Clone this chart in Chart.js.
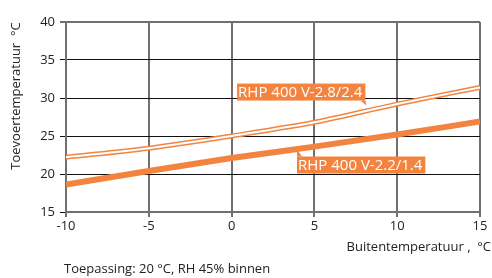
<!DOCTYPE html>
<html>
<head>
<meta charset="utf-8">
<script src="https://cdn.jsdelivr.net/npm/chart.js@4"></script>
<style>
  html, body { margin: 0; padding: 0; background: #fff; }
  #wrap { width: 492px; height: 278px; }
</style>
</head>
<body>
<div id="wrap"><canvas id="chart" width="492" height="278"></canvas></div>
<script>
// buitentemperatuur (x) en toevoertemperatuur (y)
const buitenTemp = [-10, -5, 0, 5, 10, 15];
const rhp28 = [22.2, 23.4, 25.0, 26.8, 29.2, 31.4];
const rhp22 = [18.6, 20.4, 22.1, 23.6, 25.2, 26.9];
const xTicks = [-10, -5, 0, 5, 10, 15];
const yTicks = [15, 20, 25, 30, 35, 40];

const labelNames = ["RHP 400 V-2.8/2.4", "RHP 400 V-2.2/1.4"];
const yTitle = "Toevoertemperatuur  °C";
const xTitle = "Buitentemperatuur ,  °C";
const footnote = "Toepassing: 20 °C, RH 45% binnen";

const oranje = "#f3843f";
const font = "'Open Sans', 'Noto Sans', sans-serif";

function toPoints(ys) {
  return buitenTemp.map((x, i) => ({ x: x, y: ys[i] }));
}

// labels met een klein pijltje naar de lijn
const tekstPlugin = {
  id: "tekst",
  afterDatasetsDraw(chart) {
    const ctx = chart.ctx;
    const sx = chart.scales.x;
    const sy = chart.scales.y;
    ctx.save();
    ctx.font = "15px " + font;
    ctx.textBaseline = "middle";

    // label 1: pijltje rechtsonder
    let x = sx.getPixelForValue(0.33);
    let y = sy.getPixelForValue(31.9);
    let w = ctx.measureText(labelNames[0]).width + 4;
    let h = 17;
    ctx.fillStyle = oranje;
    ctx.fillRect(x, y, w, h);
    ctx.beginPath();
    ctx.moveTo(x + w - 5, y + h);
    ctx.lineTo(x + w, y + h);
    ctx.lineTo(x + w + 1, y + h + 5);
    ctx.closePath();
    ctx.fill();
    ctx.fillStyle = "#fff";
    ctx.fillText(labelNames[0], x + 1, y + h / 2 + 1);

    // label 2: pijltje linksboven
    x = sx.getPixelForValue(3.95);
    y = sy.getPixelForValue(22.3);
    w = ctx.measureText(labelNames[1]).width + 4;
    ctx.fillStyle = oranje;
    ctx.fillRect(x, y, w, h);
    ctx.beginPath();
    ctx.moveTo(x, y);
    ctx.lineTo(x, y - 7);
    ctx.lineTo(x + 5, y);
    ctx.closePath();
    ctx.fill();
    ctx.fillStyle = "#fff";
    ctx.fillText(labelNames[1], x + 1, y + h / 2 + 1);

    // astitels en voetnoot
    ctx.fillStyle = "#222";
    ctx.font = "13px " + font;
    ctx.textAlign = "right";
    ctx.fillText(xTitle, 491, 247);
    ctx.textAlign = "left";
    ctx.fillText(footnote, 64, 269);
    ctx.translate(16, 96);
    ctx.rotate(-Math.PI / 2);
    ctx.textAlign = "center";
    ctx.fillText(yTitle, 0, 0);
    ctx.restore();
  }
};

new Chart(document.getElementById("chart"), {
  type: "scatter",
  data: {
    datasets: [
      {
        data: toPoints(rhp22),
        showLine: true,
        borderColor: oranje,
        borderWidth: 6,
        pointRadius: 0,
        cubicInterpolationMode: "monotone",
        order: 3
      },
      {
        data: toPoints(rhp28),
        showLine: true,
        borderColor: "#fff",
        borderWidth: 2,
        pointRadius: 0,
        cubicInterpolationMode: "monotone",
        order: 1
      },
      {
        data: toPoints(rhp28),
        showLine: true,
        borderColor: oranje,
        borderWidth: 5,
        pointRadius: 0,
        cubicInterpolationMode: "monotone",
        order: 2
      }
    ]
  },
  options: {
    responsive: false,
    animation: false,
    layout: { padding: { left: 0, right: 12, top: 22, bottom: 0 } },
    plugins: { legend: { display: false }, tooltip: { enabled: false } },
    scales: {
      x: {
        type: "linear",
        min: -10,
        max: 15,
        afterBuildTicks: (s) => { s.ticks = xTicks.map((v) => ({ value: v })); },
        afterFit: (s) => { s.height = 66; },
        grid: { color: "#707070", lineWidth: 2, tickLength: 5 },
        border: { color: "#707070", width: 2 },
        ticks: { color: "#222", padding: 1, font: { family: font, size: 13 } }
      },
      y: {
        min: 15,
        max: 40,
        afterBuildTicks: (s) => { s.ticks = yTicks.map((v) => ({ value: v })); },
        afterFit: (s) => { s.width = 66; },
        grid: {
          color: (c) => (c.tick && c.tick.value === 40 ? "#707070" : "#111"),
          lineWidth: (c) => (c.tick && c.tick.value === 40 ? 2 : 1),
          tickLength: 6
        },
        border: { color: "#707070", width: 2 },
        ticks: { color: "#222", padding: 5, font: { family: font, size: 13 } }
      }
    }
  },
  plugins: [tekstPlugin]
});
</script>
</body>
</html>
